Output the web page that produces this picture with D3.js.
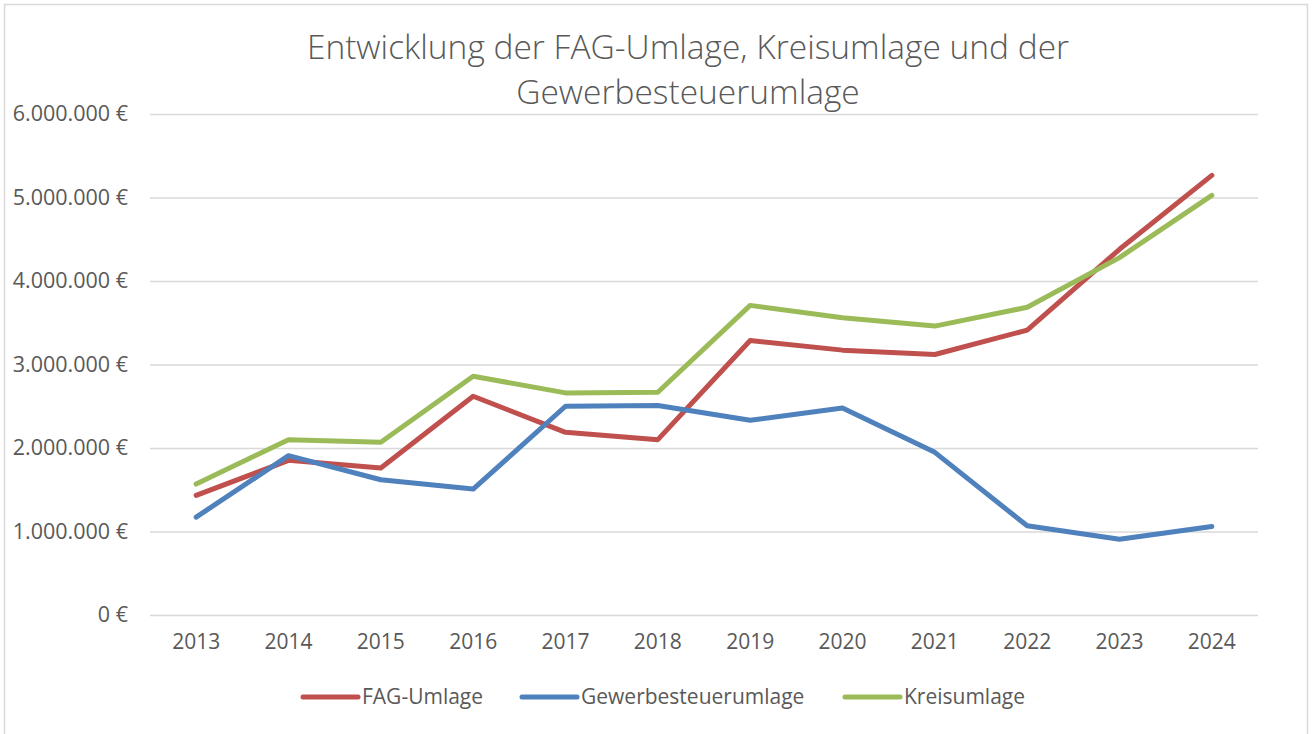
<!DOCTYPE html>
<html>
<head>
<meta charset="utf-8">
<script src="https://cdn.jsdelivr.net/npm/d3@7"></script>
<style>
  body { margin: 0; background: #fff; }
  svg { display: block; font-family: "Open Sans", sans-serif; }
</style>
</head>
<body>
<div id="chart"></div>
<script>
// Daten
const years = ["2013", "2014", "2015", "2016", "2017", "2018", "2019", "2020", "2021", "2022", "2023", "2024"];
const fagUmlage = [1432000, 1852000, 1760000, 2620000, 2188000, 2100000, 3288000, 3172000, 3120000, 3412000, 4380000, 5265000];
const gewerbesteuerumlage = [1172000, 1908000, 1620000, 1508000, 2500000, 2508000, 2332000, 2480000, 1948000, 1068000, 908000, 1060000];
const kreisumlage = [1568000, 2100000, 2068000, 2860000, 2660000, 2668000, 3708000, 3560000, 3460000, 3685000, 4280000, 5025000];
const yTicks = [0, 1000000, 2000000, 3000000, 4000000, 5000000, 6000000];
const titleLines = ["Entwicklung der FAG-Umlage, Kreisumlage und der", "Gewerbesteuerumlage"];

const series = [
  { name: "FAG-Umlage", values: fagUmlage, color: "#C0504D" },
  { name: "Gewerbesteuerumlage", values: gewerbesteuerumlage, color: "#4F81BD" },
  { name: "Kreisumlage", values: kreisumlage, color: "#9BBB59" }
];

const width = 1312, height = 734;
const margin = { top: 114, right: 54, bottom: 119, left: 150 };

const de = d3.formatLocale({ decimal: ",", thousands: ".", grouping: [3], currency: ["", " €"] });
const fmt = v => de.format(",.0f")(v) + " €";

const svg = d3.select("#chart").append("svg")
  .attr("width", width)
  .attr("height", height);

// Rahmen
svg.append("rect")
  .attr("x", 4.5).attr("y", 4.5)
  .attr("width", width - 9).attr("height", height + 20)
  .attr("fill", "#fff")
  .attr("stroke", "#D9D9D9")
  .attr("stroke-width", 1.5);

const x = d3.scaleBand()
  .domain(years)
  .range([margin.left, width - margin.right]);

const y = d3.scaleLinear()
  .domain([0, 6000000])
  .range([height - margin.bottom, margin.top]);

// Titel
svg.append("g").selectAll("text")
  .data(titleLines)
  .join("text")
  .attr("x", 688)
  .attr("y", (d, i) => 59 + i * 45)
  .attr("text-anchor", "middle")
  .attr("font-size", 33.5)
  .attr("font-weight", 300)
  .attr("fill", "#595959")
  .text(d => d);

// Gitternetz + Y-Achse
const yAxis = svg.append("g")
  .attr("transform", `translate(${margin.left},0)`)
  .call(d3.axisLeft(y).tickValues(yTicks).tickFormat(fmt)
    .tickSize(-(width - margin.left - margin.right)).tickPadding(22));
yAxis.select(".domain").remove();
yAxis.selectAll(".tick line").attr("stroke", "#D9D9D9").attr("stroke-width", 1.5);
yAxis.selectAll(".tick text")
  .attr("font-size", 21.5)
  .attr("font-family", "Open Sans, sans-serif")
  .attr("fill", "#595959");

// X-Achse
const xAxis = svg.append("g")
  .attr("transform", `translate(0,${height - margin.bottom})`)
  .call(d3.axisBottom(x).tickSize(0).tickPadding(19));
xAxis.select(".domain").remove();
xAxis.selectAll(".tick text")
  .attr("font-size", 21)
  .attr("font-family", "Open Sans, sans-serif")
  .attr("fill", "#595959");

// Linien
const line = d3.line()
  .x((d, i) => x(years[i]) + x.bandwidth() / 2)
  .y(d => y(d));

svg.append("g").selectAll("path")
  .data(series)
  .join("path")
  .attr("d", d => line(d.values))
  .attr("fill", "none")
  .attr("stroke", d => d.color)
  .attr("stroke-width", 5)
  .attr("stroke-linejoin", "round")
  .attr("stroke-linecap", "round");

// Legende
const legendX = [303, 522, 845];
const legend = svg.append("g").selectAll("g")
  .data(series)
  .join("g")
  .attr("transform", (d, i) => `translate(${legendX[i]},697)`);
legend.append("line")
  .attr("x1", 0).attr("x2", 55)
  .attr("stroke", d => d.color)
  .attr("stroke-width", 5)
  .attr("stroke-linecap", "round");
legend.append("text")
  .attr("x", 59)
  .attr("dy", "0.35em")
  .attr("font-size", 21)
  .attr("fill", "#595959")
  .text(d => d.name);
</script>
</body>
</html>
